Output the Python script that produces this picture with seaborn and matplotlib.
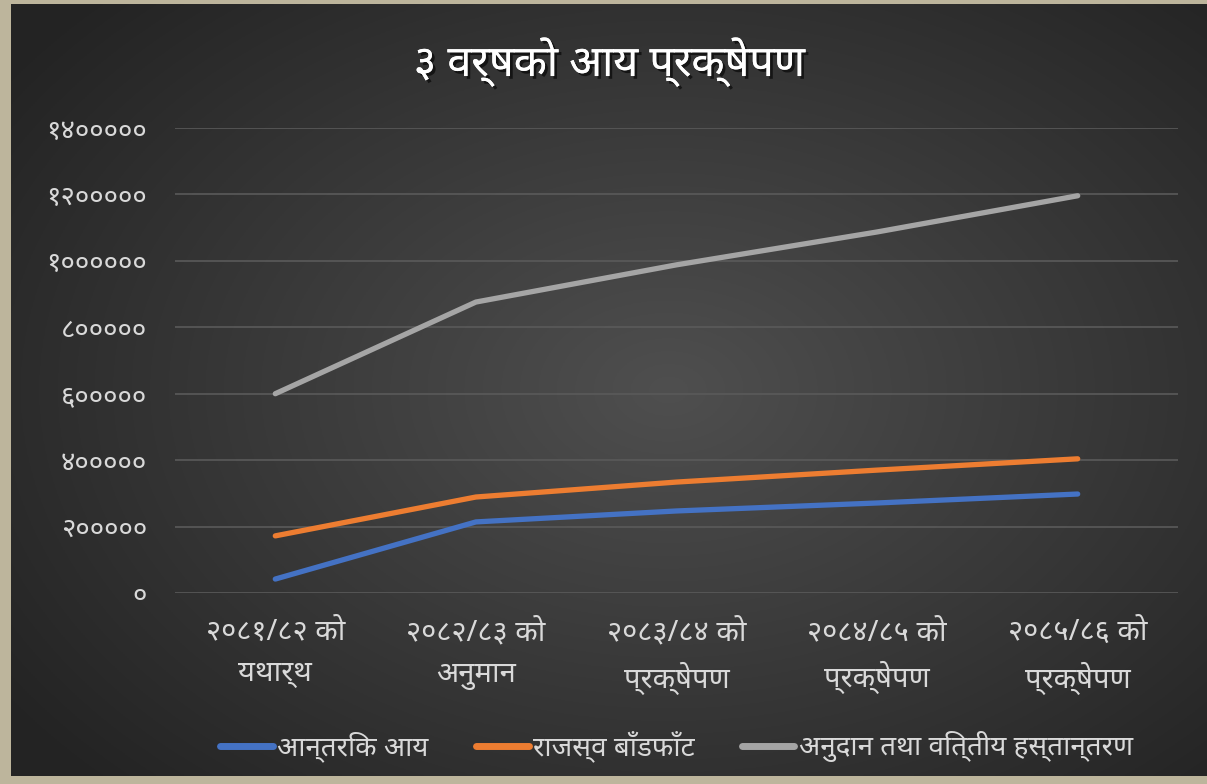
import numpy as np
import pandas as pd
import matplotlib
matplotlib.use("Agg")
import matplotlib.pyplot as plt
import seaborn as sns
from matplotlib.ticker import FuncFormatter
import matplotlib.patheffects as pe

categories = ["२०८१/८२ को\nयथार्थ", "२०८२/८३ को\nअनुमान", "२०८३/८४ को\nप्रक्षेपण",
              "२०८४/८५ को\nप्रक्षेपण", "२०८५/८६ को\nप्रक्षेपण"]
internal = [42000, 214000, 247000, 271000, 298000]
revenue = [172000, 289000, 334000, 370000, 404000]
grants = [600000, 876000, 988000, 1087000, 1196000]
series_names = ["आन्तरिक आय", "राजस्व बाँडफाँट", "अनुदान तथा वित्तीय हस्तान्तरण"]
colors = ["#4472C4", "#ED7D31", "#A5A5A5"]
title = "३ वर्षको आय प्रक्षेपण"

sns.set_theme(style="dark")
plt.rcParams['font.family'] = ['Noto Sans', 'DejaVu Sans']

df = pd.DataFrame({"cat": categories * 3,
                   "x": list(range(5)) * 3,
                   "value": internal + revenue + grants,
                   "series": sum([[n] * 5 for n in series_names], [])})

fig = plt.figure(figsize=(12.07, 7.84), dpi=100)
fig.patch.set_facecolor("#BDB59C")
W, H = 1207, 784
# background panel with radial gradient
bg = fig.add_axes([11 / W, 8 / H, (W - 11) / W, (H - 12) / H])
yy, xx = np.mgrid[0:1:400j, 0:1:600j]
r = np.sqrt(((xx - 0.55) / 0.75) ** 2 + ((yy - 0.5) / 0.8) ** 2)
g = np.clip(0.31 - 0.19 * r, 0.14, 0.32)
bg.imshow(np.dstack([g, g, g]), aspect="auto", extent=[0, 1, 0, 1])
bg.set_axis_off()

ax = fig.add_axes([175 / W, (H - 593) / H, (1178 - 175) / W, (593 - 128) / H])
ax.patch.set_alpha(0)
sns.lineplot(data=df, x="x", y="value", hue="series", palette=colors, linewidth=3.8,
             ax=ax, legend=True, solid_capstyle="round")
ax.set_xlim(-0.5, 4.5)
ax.set_ylim(0, 1400000)
ax.set_yticks(np.arange(0, 1400001, 200000))
dev = str.maketrans("0123456789", "०१२३४५६७८९")
ax.yaxis.set_major_formatter(FuncFormatter(lambda v, p: str(int(v)).translate(dev)))
ax.set_xticks(range(5))
ax.set_xticklabels(categories)
ax.grid(axis="y", color="#5a5a5a", linewidth=1.2)
ax.grid(axis="x", visible=False)
for s in ax.spines.values():
    s.set_visible(False)
ax.tick_params(axis="y", colors="#D9D9D9", labelsize=20, length=0, pad=20)
ax.tick_params(axis="x", colors="#D9D9D9", labelsize=21, length=0, pad=18)
for t in ax.get_xticklabels():
    t.set_linespacing(1.55)
ax.set_xlabel("")
ax.set_ylabel("")
leg = ax.legend(loc="center", bbox_to_anchor=(0.5, -0.33), ncol=3, frameon=False,
                fontsize=20, labelcolor="#D9D9D9", handlelength=1.9, columnspacing=1.7,
                handletextpad=0.15)
for l in leg.get_lines():
    l.set_linewidth(5)
fig.text(0.505, 1 - 62 / H, title, ha="center", va="center", fontsize=31,
         color="white", fontweight="bold",
         path_effects=[pe.withSimplePatchShadow(offset=(2, -2), shadow_rgbFace="black", alpha=0.6),
                       pe.Normal()])
fig.savefig("out.png", dpi=100, facecolor=fig.get_facecolor())
